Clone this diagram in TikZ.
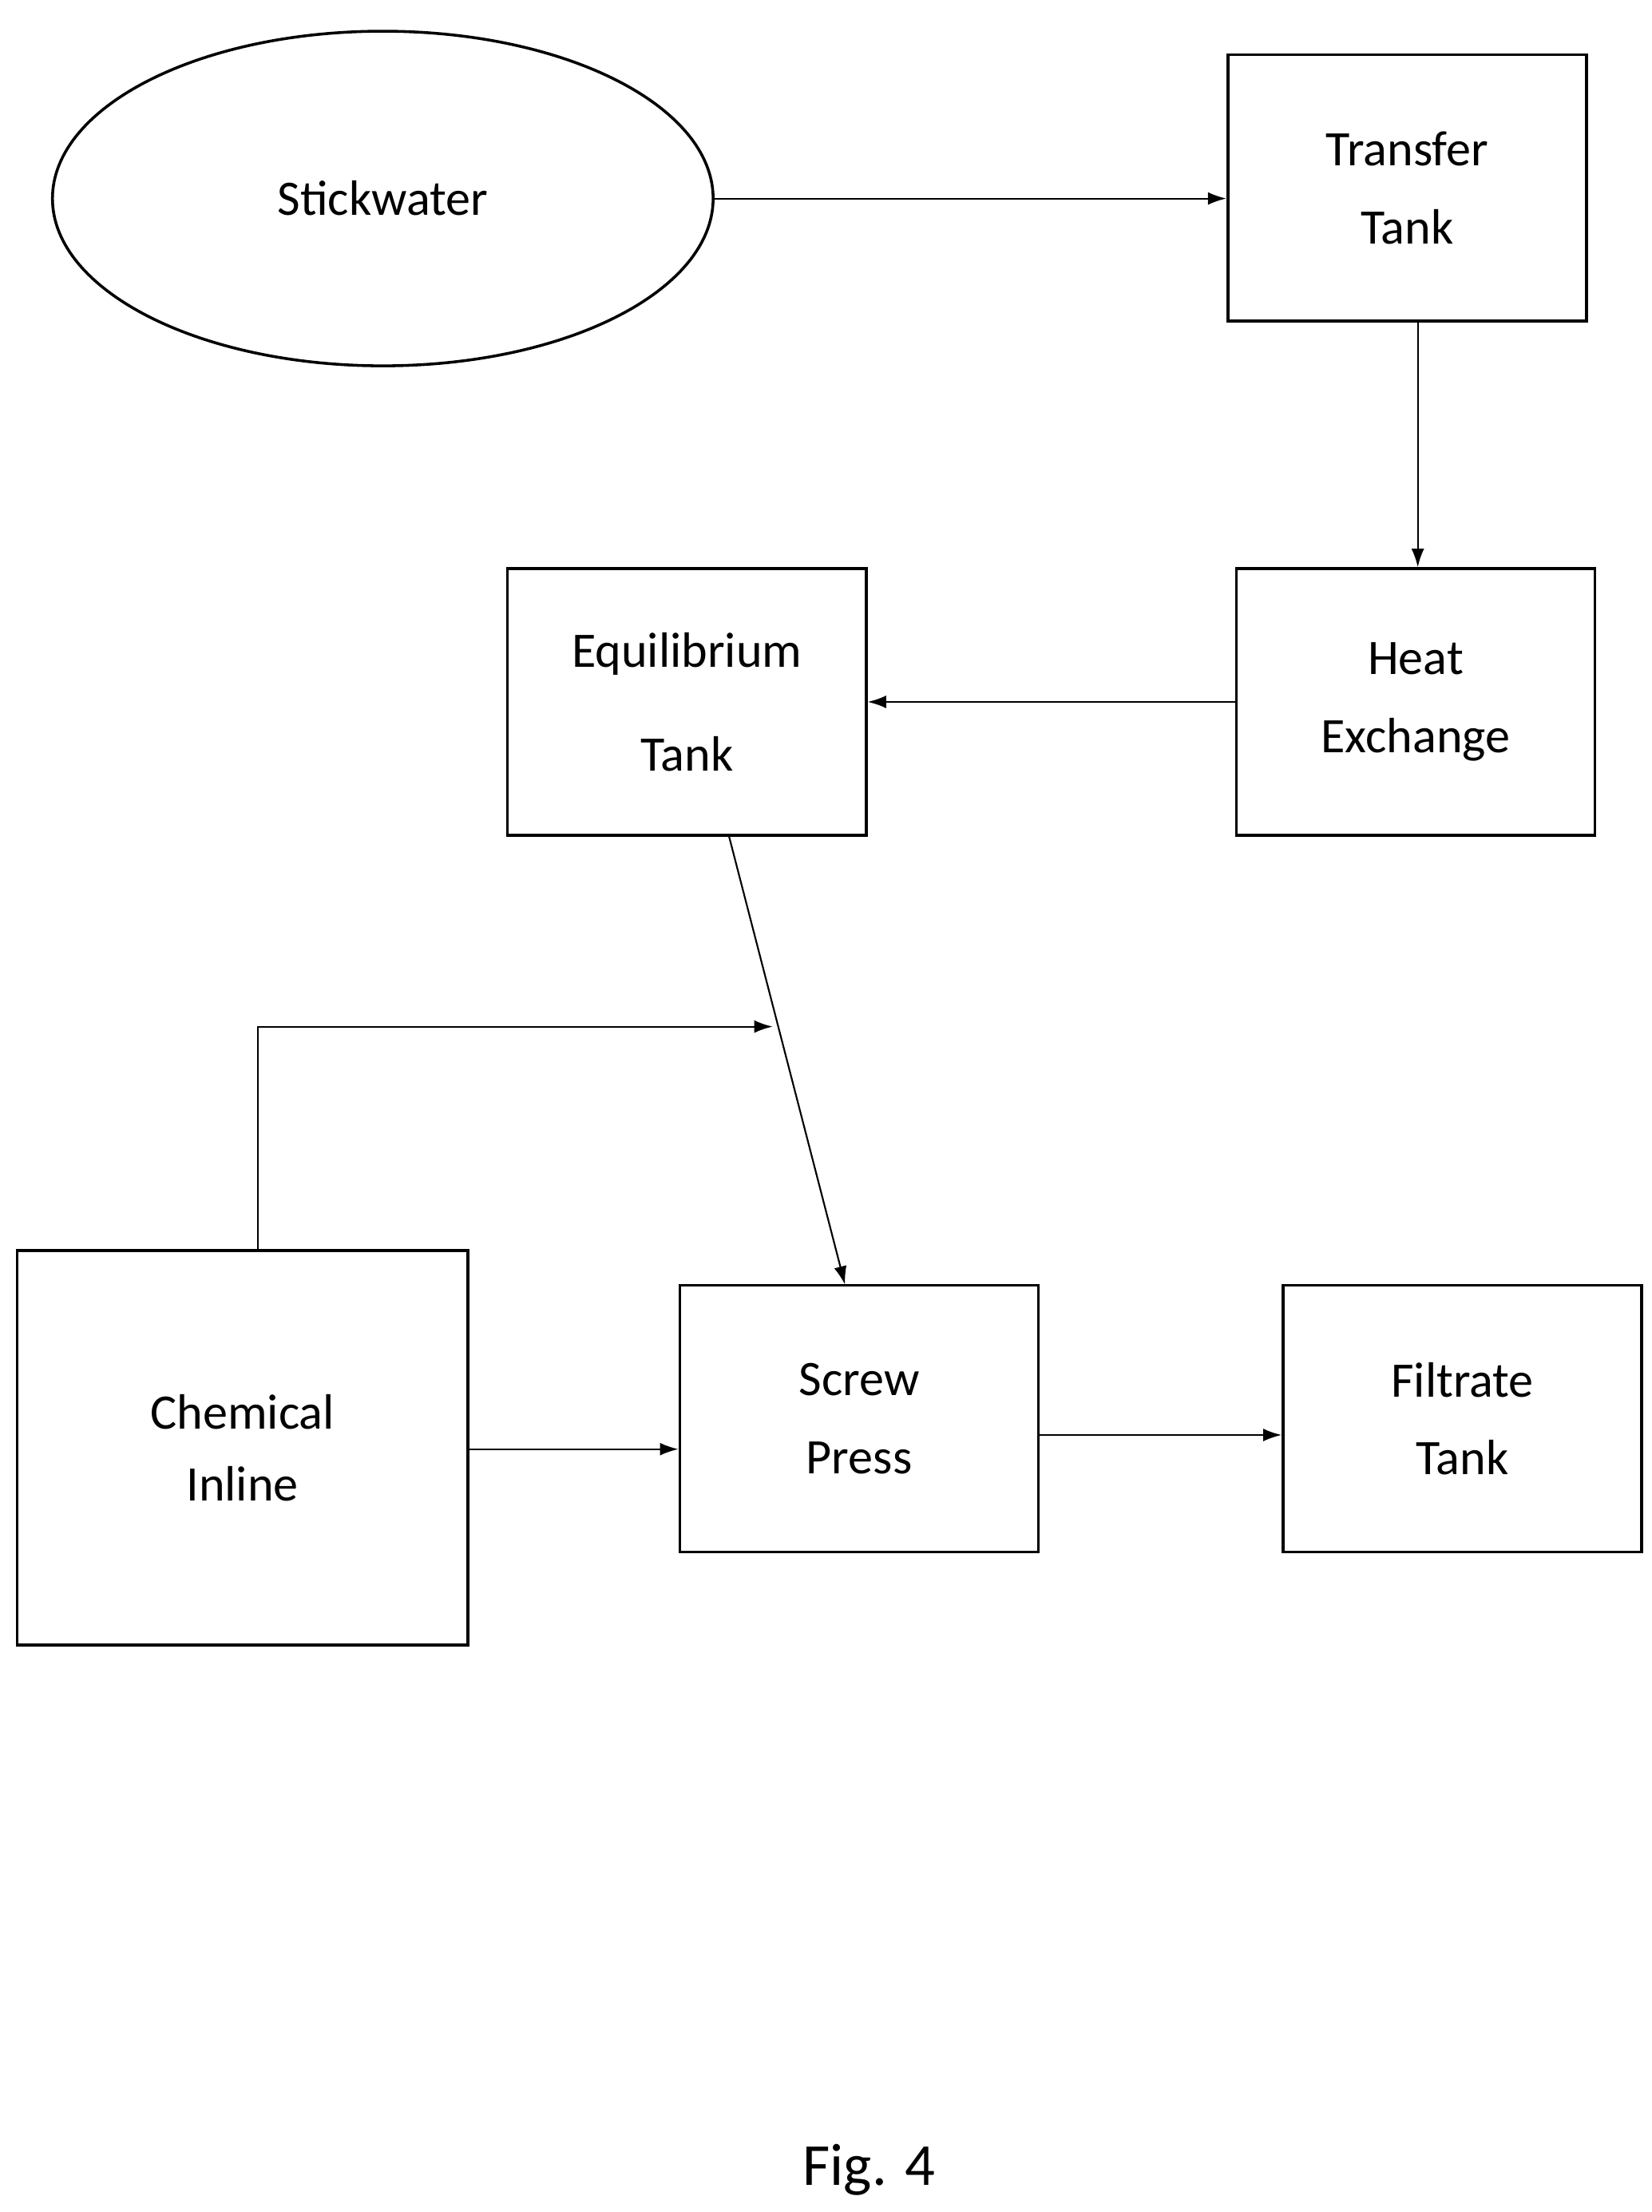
\documentclass[tikz,border=0pt]{standalone}
\usepackage{fontspec}
\setmainfont{Carlito}
\usetikzlibrary{arrows.meta,shapes.geometric}
\begin{document}
\begin{tikzpicture}[x=1pt,y=-1pt,
  box/.style={draw,line width=2pt,minimum width=253pt,minimum height=188pt,inner sep=0,align=center,font=\fontsize{35}{55}\selectfont},
  arr/.style={line width=1.2pt,-{Latex[length=13pt,width=9pt]}}]
\useasboundingbox (0,0) rectangle (1165,1560);
\node[box,ellipse,minimum width=466pt,minimum height=236pt] (sw) at (270,140) {Stickwater};
\node[box] (tt) at (992.5,132.5) {Transfer\\Tank};
\node[box] (he) at (998.5,495) {Heat\\Exchange};
\node[box,font=\fontsize{35}{73}\selectfont] (et) at (484.5,495) {Equilibrium\\Tank};
\node[box,minimum width=318pt,minimum height=278pt,font=\fontsize{35}{51}\selectfont] (ci) at (171,1021) {Chemical\\Inline};
\node[box] (sp) at (606,1000.5) {Screw\\Press};
\node[box] (ft) at (1031.5,1000.5) {Filtrate\\Tank};
\node[font=\fontsize{42}{50}\selectfont] (fig) at (613,1530) {Fig. 4};
\coordinate (a) at (514,589);
\coordinate (b) at (596,906);
\coordinate (m) at (545,724);
\draw[arr] (sw.east |- 0,140) -- (tt.west |- 0,140);
\draw[arr] (tt.south -| 1000,0) -- (he.north -| 1000,0);
\draw[arr] (he.west) -- (et.east);
\draw[arr] (a) -- (b);
\draw[arr] (ci.north -| 182,0) -- (182,724) -- (m);
\draw[arr] (ci.east |- 0,1022) -- (sp.west |- 0,1022);
\draw[arr] (sp.east |- 0,1012) -- (ft.west |- 0,1012);
\end{tikzpicture}
\end{document}
